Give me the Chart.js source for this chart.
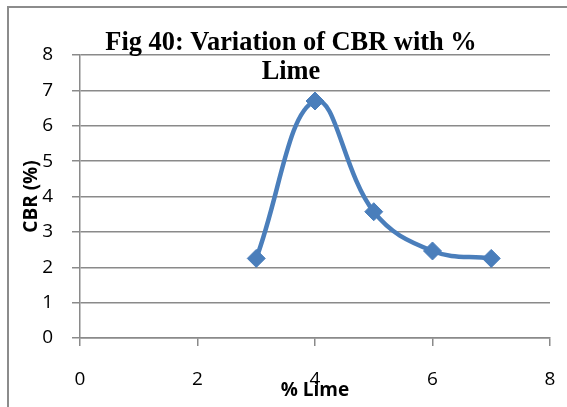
<!DOCTYPE html>
<html lang="en">
<head>
<meta charset="UTF-8">
<title>Fig 40: Variation of CBR with % Lime</title>
<script src="https://cdn.jsdelivr.net/npm/chart.js"></script>
<style>
  html, body { margin: 0; padding: 0; background: #fff; overflow: hidden; }
  .wrap { position: relative; width: 567px; height: 407px; overflow: hidden; }
  /* chart frame, only its top and left edges fall inside the page */
  .frame { position: absolute; left: 7px; top: 6px; width: 620px; height: 460px;
           border: 2px solid #8c8c8c; box-sizing: border-box; }
  canvas { position: absolute; left: 0; top: 0; }
</style>
</head>
<body>
<div class="wrap">
  <div class="frame"></div>
  <canvas id="cbrChart" width="567" height="407"></canvas>
</div>
<script>
// % lime added and the CBR measured for each mix
const limePct = [3, 4, 5, 6, 7];
const cbrPct = [2.25, 6.7, 3.57, 2.46, 2.25];

const titleLines = ['Fig 40: Variation of CBR with %', 'Lime'];
const axisGrey = '#8a8a8a';
const lineBlue = '#4a7ebb';
const tickFont = { family: '"Open Sans", "Noto Sans", sans-serif', size: 19 };
const axisTitleFont = { family: '"Open Sans", "Noto Sans", sans-serif', size: 19, weight: 'bold' };

// title sits over the top of the plot, like the spreadsheet original
const figTitle = {
  id: 'figTitle',
  afterDraw(chart) {
    const ctx = chart.ctx;
    ctx.save();
    ctx.font = 'bold 26.4px "Liberation Serif", "Times New Roman", serif';
    ctx.fillStyle = '#000';
    ctx.textAlign = 'center';
    ctx.textBaseline = 'alphabetic';
    titleLines.forEach((t, i) => ctx.fillText(t, 291, 50 + i * 29));
    ctx.restore();
  }
};

new Chart(document.getElementById('cbrChart'), {
  type: 'line',
  data: {
    datasets: [{
      data: limePct.map((x, i) => ({ x: x, y: cbrPct[i] })),
      borderColor: lineBlue,
      backgroundColor: lineBlue,
      borderWidth: 4.5,
      tension: 0.4,
      pointStyle: 'rectRot',
      pointRadius: 9,
      pointBorderWidth: 1,
      fill: false
    }]
  },
  options: {
    responsive: false,
    animation: false,
    layout: { padding: { top: 55, left: 8, right: 17, bottom: 0 } },
    plugins: {
      legend: { display: false },
      title: { display: false },
      tooltip: { enabled: false }
    },
    scales: {
      x: {
        type: 'linear',
        min: 0,
        max: 8,
        afterFit: (scale) => {
          scale.height = 69;
          scale.paddingLeft = 0;
          scale.paddingRight = 0;
        },
        ticks: { stepSize: 2, color: '#000', font: tickFont, padding: 22 },
        grid: { drawOnChartArea: false, drawTicks: true, tickLength: 8, color: axisGrey, lineWidth: 1.5 },
        border: { display: true, color: axisGrey, width: 1.5 },
        title: { display: true, text: '% Lime', color: '#000', font: axisTitleFont, padding: { top: 0, bottom: 4.6 } }
      },
      y: {
        min: 0,
        max: 8,
        afterFit: (scale) => { scale.width = 72; },
        ticks: { stepSize: 1, color: '#000', font: tickFont, padding: 19 },
        grid: { drawOnChartArea: true, drawTicks: true, tickLength: 8, color: axisGrey, lineWidth: 1.5 },
        border: { display: true, color: axisGrey, width: 1.5 },
        title: { display: true, text: 'CBR (%)', color: '#000', font: axisTitleFont, padding: { top: 12.6, bottom: 0 } }
      }
    }
  },
  plugins: [figTitle]
});
</script>
</body>
</html>
